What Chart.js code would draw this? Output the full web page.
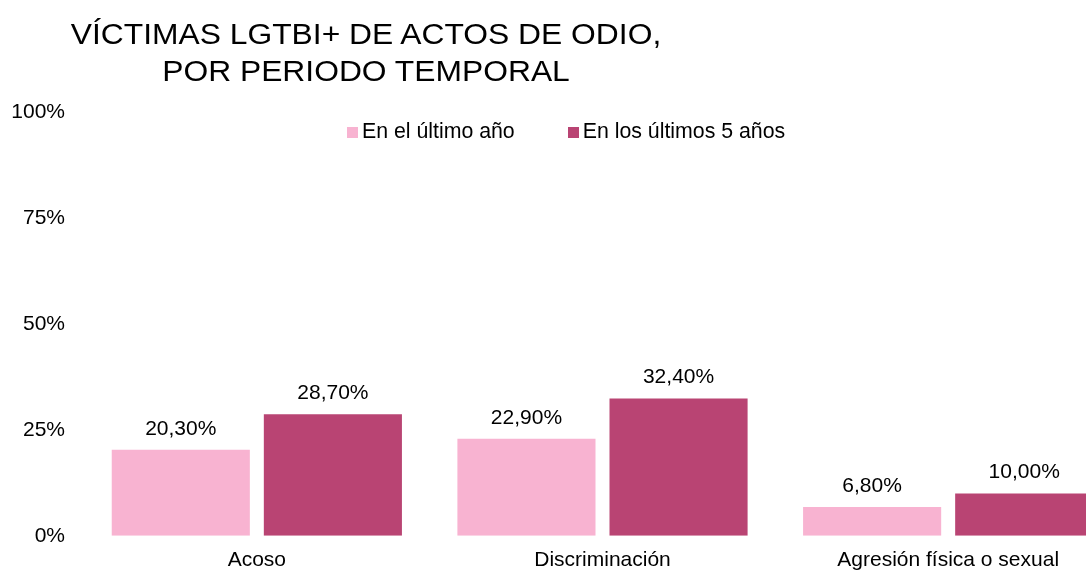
<!DOCTYPE html>
<html>
<head>
<meta charset="utf-8">
<script src="https://cdn.jsdelivr.net/npm/chart.js@4/dist/chart.umd.min.js"></script>
<style>
  html, body { margin: 0; padding: 0; background: #fff; overflow: hidden; width: 1086px; height: 572px; }
  body { position: relative; font-family: "Liberation Sans", Arial, sans-serif; color: #000; }
  .wrap { position: absolute; left: 0; top: 0; width: 1121px; height: 585px; }
  .title { position: absolute; left: 46px; top: 16px; width: 640px; text-align: center;
           font-size: 30px; line-height: 36.7px; transform: scaleX(1.06); transform-origin: 320px 0; }
  .legend { position: absolute; top: 119px; left: 347px; font-size: 21.3px; white-space: nowrap; }
  .legend span.item { display: inline-block; margin-right: 53px; }
  .legend i { display: inline-block; width: 11px; height: 11px; margin-right: 4px; vertical-align: 0px; }
</style>
</head>
<body>
<div class="wrap"><canvas id="chart"></canvas></div>
<div class="title">VÍCTIMAS LGTBI+ DE ACTOS DE ODIO,<br>POR PERIODO TEMPORAL</div>
<div class="legend" id="legend"></div>
<script>
const categories = ['Acoso', 'Discriminación', 'Agresión física o sexual'];
const seriesNames = ['En el último año', 'En los últimos 5 años'];
const lastYear = [20.3, 22.9, 6.8];
const lastFiveYears = [28.7, 32.4, 10.0];
const yTicks = [0, 25, 50, 75, 100];
const colors = ['#F8B3D1', '#B94473'];

const fmt = v => v.toFixed(2).replace('.', ',') + '%';

// legend as real html text
const legendEl = document.getElementById('legend');
seriesNames.forEach((name, i) => {
  legendEl.innerHTML += '<span class="item"><i style="background:' + colors[i] + '"></i>' + name + '</span>';
});

const valueLabels = {
  id: 'valueLabels',
  afterDatasetsDraw(chart) {
    const ctx = chart.ctx;
    ctx.save();
    ctx.font = '21px "Liberation Sans", Arial, sans-serif';
    ctx.fillStyle = '#000';
    ctx.textAlign = 'center';
    ctx.textBaseline = 'alphabetic';
    chart.data.datasets.forEach((ds, di) => {
      chart.getDatasetMeta(di).data.forEach((bar, i) => {
        ctx.fillText(fmt(ds.data[i]), bar.x, bar.y - 15);
      });
    });
    ctx.restore();
  }
};

new Chart(document.getElementById('chart'), {
  type: 'bar',
  data: {
    labels: categories,
    datasets: [
      { label: seriesNames[0], data: lastYear, backgroundColor: colors[0], borderWidth: 0 },
      { label: seriesNames[1], data: lastFiveYears, backgroundColor: colors[1], borderWidth: 0 }
    ]
  },
  options: {
    responsive: true,
    maintainAspectRatio: false,
    animation: false,
    layout: { padding: { left: 10, top: 112, right: 0, bottom: 0 } },
    datasets: { bar: { categoryPercentage: 0.88, barPercentage: 0.908 } },
    plugins: {
      legend: { display: false },
      title: { display: false },
      tooltip: { enabled: false }
    },
    scales: {
      x: {
        grid: { display: false, drawTicks: false },
        border: { display: false },
        ticks: { color: '#000', padding: 12, font: { size: 21, family: '"Liberation Sans", Arial, sans-serif' }, maxRotation: 0 }
      },
      y: {
        min: 0,
        max: 100,
        afterFit: (scale) => { scale.width = 74; },
        afterBuildTicks: (scale) => { scale.ticks = yTicks.map(v => ({ value: v })); },
        grid: { display: false, drawTicks: false },
        border: { display: false },
        ticks: { color: '#000', padding: 19, font: { size: 21, family: '"Liberation Sans", Arial, sans-serif' }, callback: (v) => v + '%' }
      }
    }
  },
  plugins: [valueLabels]
});
</script>
</body>
</html>
